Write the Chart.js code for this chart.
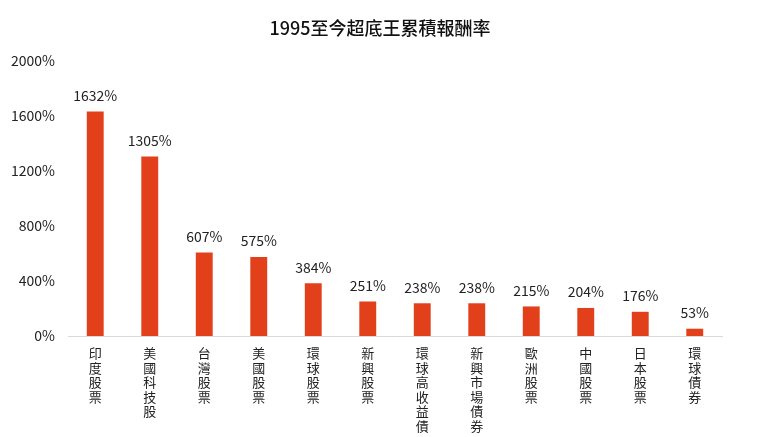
<!DOCTYPE html>
<html>
<head>
<meta charset="utf-8">
<script src="https://cdn.jsdelivr.net/npm/chart.js@4/dist/chart.umd.min.js"></script>
<style>
  html, body { margin: 0; padding: 0; background: #fff; }
  #wrap { width: 760px; height: 437px; position: relative; }
</style>
</head>
<body>
<div id="wrap"><canvas id="c"></canvas></div>
<script>
const categories = ['印度股票', '美國科技股', '台灣股票', '美國股票', '環球股票', '新興股票',
  '環球高收益債', '新興市場債券', '歐洲股票', '中國股票', '日本股票', '環球債券'];
const returns = [1632, 1305, 607, 575, 384, 251, 238, 238, 215, 204, 176, 53];
const yTicks = [0, 400, 800, 1200, 1600, 2000];

const FONT = '"Noto Sans CJK TC", "Noto Sans", sans-serif';

// value labels above each bar
const valueLabels = {
  id: 'valueLabels',
  afterDatasetsDraw(chart) {
    const ctx = chart.ctx;
    const meta = chart.getDatasetMeta(0);
    ctx.save();
    ctx.font = '14px ' + FONT;
    ctx.fillStyle = '#222';
    ctx.textAlign = 'center';
    ctx.textBaseline = 'middle';
    meta.data.forEach(function(bar, i) {
      ctx.fillText(returns[i] + '%', bar.x, bar.y - 16);
    });
    ctx.restore();
  }
};

new Chart(document.getElementById('c'), {
  type: 'bar',
  data: {
    labels: categories.map(function(s) { return s.split(''); }),
    datasets: [{
      data: returns,
      backgroundColor: '#E2401B',
      categoryPercentage: 1,
      barPercentage: 0.31
    }]
  },
  options: {
    responsive: true,
    maintainAspectRatio: false,
    animation: false,
    layout: { padding: 0 },
    plugins: {
      legend: { display: false },
      tooltip: { enabled: false },
      title: {
        display: true,
        text: '1995至今超底王累積報酬率',
        color: '#111',
        font: { family: FONT, size: 18, weight: '500', lineHeight: 1.2 },
        padding: { top: 17, bottom: 22.4 }
      }
    },
    scales: {
      x: {
        grid: { display: false, drawTicks: false },
        border: { display: true, color: '#d9d9d9', width: 1 },
        ticks: {
          color: '#222',
          font: { family: FONT, size: 13, lineHeight: 1.12 },
          padding: 10,
          maxRotation: 0,
          autoSkip: false
        },
        afterFit: function(scale) { scale.height = 101; }
      },
      y: {
        min: 0,
        max: 2000,
        grid: { display: false, drawTicks: false },
        border: { display: false },
        afterBuildTicks: function(scale) {
          scale.ticks = yTicks.map(function(v) { return { value: v }; });
        },
        ticks: {
          color: '#222',
          font: { family: FONT, size: 14 },
          padding: 13,
          callback: function(v) { return v + '%'; }
        },
        afterFit: function(scale) { scale.width = 68; }
      },
      // empty right-hand spacer so the title stays centred on the page
      spacer: {
        position: 'right',
        min: 0,
        max: 2000,
        grid: { display: false, drawTicks: false },
        border: { display: false },
        ticks: { display: false },
        afterFit: function(scale) { scale.width = 38; }
      }
    }
  },
  plugins: [valueLabels]
});
</script>
</body>
</html>
